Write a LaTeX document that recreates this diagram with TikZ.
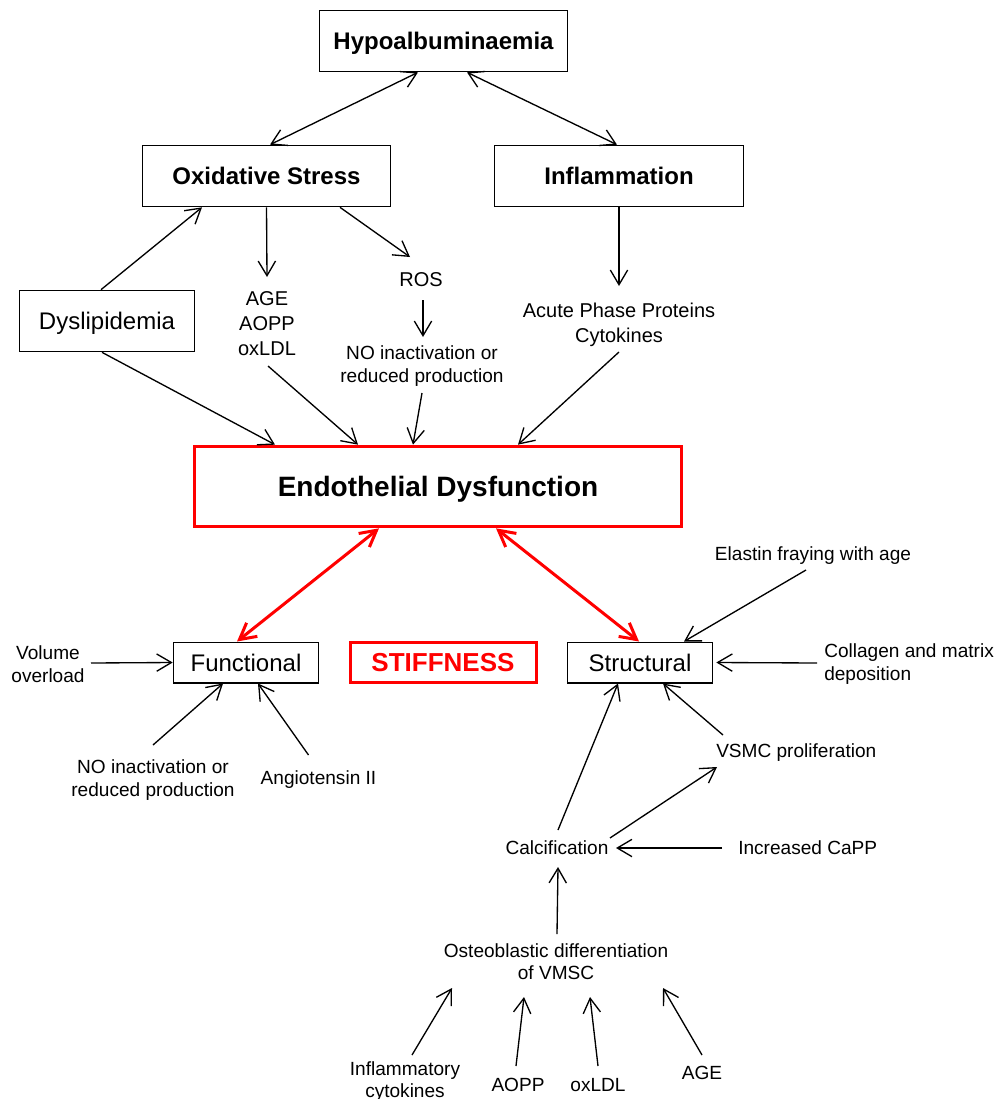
\documentclass[tikz,border=0pt]{standalone}
\usepackage{fontspec}
\setmainfont{Liberation Sans}
\usetikzlibrary{arrows.meta}
\tikzset{
  box/.style={draw=black, line width=1pt, inner sep=0pt, fill=white, text depth=0pt},
  redbox/.style={draw=red, line width=2.25pt, inner sep=0pt, text depth=0pt},
  lbl/.style={inner sep=0pt, align=center},
  tip/.style={Straight Barb[length=11pt,width=13pt]},
  arr/.style={draw=black, line width=1pt, -{Straight Barb[length=11pt,width=13pt]}},
  barr/.style={draw=black, line width=1pt, {Straight Barb[length=11pt,width=13pt]}-{Straight Barb[length=11pt,width=13pt]}},
  rarr/.style={draw=red, line width=2.25pt, {Straight Barb[length=12pt,width=13pt]}-{Straight Barb[length=12pt,width=13pt]}},
}
\newcommand{\fsBig}{\fontsize{18}{21}\selectfont}
\newcommand{\fsMid}{\fontsize{15}{18.5}\selectfont}
\newcommand{\fsNo}{\fontsize{14.3}{17.3}\selectfont}
\newcommand{\fsSmall}{\fontsize{14.3}{16.8}\selectfont}
\begin{document}
\begin{tikzpicture}[x=0.75pt,y=-0.75pt]
\useasboundingbox (0,0) rectangle (994,1099);
\clip (0,0) rectangle (994,1099);
\fill[white] (0,0) rectangle (994,1099);

% main boxes
\node[box, minimum width=186pt, minimum height=46pt, font=\fsBig\bfseries] (hypo) at (443.5,41) {Hypoalbuminaemia};
\node[box, minimum width=186pt, minimum height=46pt, font=\fsBig\bfseries] (ox) at (266.5,176) {Oxidative Stress};
\node[box, minimum width=187pt, minimum height=46pt, font=\fsBig\bfseries] (infl) at (619,176) {Inflammation};
\node[box, minimum width=131.5pt, minimum height=46pt, font=\fsBig] (dys) at (107,321) {Dyslipidemia};
\node[redbox, minimum width=365.5pt, minimum height=60.5pt, font=\fontsize{21}{24}\selectfont\bfseries] (endo) at (438,486.5) {Endothelial Dysfunction};
\node[box, minimum width=109pt, minimum height=30.5pt, font=\fsBig] (func) at (246,662.5) {Functional};
\node[redbox, minimum width=139.5pt, minimum height=30.5pt, text=red, font=\fontsize{19.5}{22}\selectfont\bfseries] (stiff) at (443,662.5) {STIFFNESS};
\node[box, minimum width=109pt, minimum height=30.5pt, font=\fsBig] (struct) at (640,662.5) {Structural};

% text labels
\node[lbl, font=\fsMid] (age) at (267,323.5) {AGE\\AOPP\\oxLDL};
\node[lbl, font=\fsMid] (ros) at (421,280) {ROS};
\node[lbl, font=\fsNo] (notop) at (422,366) {NO inactivation or\\reduced production};
\node[lbl, font=\fsMid] (acute) at (619,324.5) {Acute Phase Proteins\\Cytokines};
\node[lbl, font=\fsSmall] (vol) at (48,664) {Volume\\overload};
\node[lbl, font=\fsSmall] (nobot) at (153,780) {NO inactivation or\\reduced production};
\node[lbl, font=\fsSmall] (angio) at (318.5,780) {Angiotensin II};
\node[lbl, font=\fsSmall] (elastin) at (813,556) {Elastin fraying with age};
\node[lbl, font=\fsSmall, anchor=west, align=left] (coll) at (824,664) {Collagen and matrix\\deposition};
\node[lbl, font=\fsSmall, anchor=west] (vsmc) at (716,753) {VSMC proliferation};
\node[lbl, font=\fsSmall] (calc) at (557,848) {Calcification};
\node[lbl, font=\fsSmall, anchor=west] (capp) at (738,848) {Increased CaPP};
\node[lbl, font=\fsSmall] (osteo) at (556,961.5) {Osteoblastic differentiation\\of VMSC};
\node[lbl, font=\fsSmall] (inflcyt) at (405,1081.5) {Inflammatory\\cytokines};
\node[lbl, font=\fsSmall] (aopp) at (518,1085) {AOPP};
\node[lbl, font=\fsSmall] (oxldl) at (598,1085) {oxLDL};
\node[lbl, font=\fsSmall] (age2) at (702,1073) {AGE};

% top connectors
\draw[barr] ([shift={(-25.5,0)}]hypo.south) -- ([shift={(3.5,0)}]ox.north);
\draw[barr] ([shift={(23.5,0)}]hypo.south) -- ([shift={(-2,0)}]infl.north);
\draw[arr] ([shift={(-6,0)}]dys.north) -- ([shift={(-64.5,0)}]ox.south);
\draw[arr] (ox.south) -- ([shift={(0,-46.5)}]age.center);
\draw[arr] ([shift={(73.5,0)}]ox.south) -- ([shift={(-11,-23)}]ros.center);
\draw[arr] ([shift={(2,20)}]ros.center) -- ([shift={(1,-29)}]notop.center);
\draw[arr] (infl.south) -- ([shift={(0,-38.5)}]acute.center);
\draw[arr] ([shift={(-5,0)}]dys.south) -- ([shift={(-163,0)}]endo.north);
\draw[arr] ([shift={(1,42.5)}]age.center) -- ([shift={(-80,0)}]endo.north);
\draw[arr] ([shift={(0,27)}]notop.center) -- ([shift={(-25,0)}]endo.north);
\draw[arr] ([shift={(0,27.5)}]acute.center) -- ([shift={(80,0)}]endo.north);

% red connectors
\draw[rarr] ([shift={(-59,0)}]endo.south) -- ([shift={(-9,0)}]func.north);
\draw[rarr] ([shift={(58,0)}]endo.south) -- ([shift={(-1,0)}]struct.north);

% functional inputs
\draw[arr] ([shift={(43,-1)}]vol.center) -- (func.west);
\draw[arr] ([shift={(0,-35)}]nobot.center) -- ([shift={(-23,0)}]func.south);
\draw[arr] ([shift={(-10,-25)}]angio.center) -- ([shift={(12,0)}]func.south);

% structural inputs
\draw[arr] ([shift={(-7,14)}]elastin.center) -- ([shift={(44,0)}]struct.north);
\draw[arr] ([shift={(-7,-1)}]coll.west) -- ([shift={(3,0)}]struct.east);
\draw[arr] ([shift={(7,-18)}]vsmc.west) -- ([shift={(23,0)}]struct.south);
\draw[arr] ([shift={(1,-18)}]calc.center) -- ([shift={(-22,0)}]struct.south);
\draw[arr] ([shift={(53,-10)}]calc.center) -- ([shift={(1,14)}]vsmc.west);
\draw[arr] ([shift={(-16,0)}]capp.west) -- ([shift={(59,0)}]calc.center);
\draw[arr] ([shift={(1,-27.5)}]osteo.center) -- ([shift={(1,19)}]calc.center);

% osteoblastic inputs
\draw[arr] ([shift={(7,-26.5)}]inflcyt.center) -- ([shift={(-104,26.5)}]osteo.center);
\draw[arr] ([shift={(-2,-19)}]aopp.center) -- ([shift={(-32,35.5)}]osteo.center);
\draw[arr] ([shift={(0,-19)}]oxldl.center) -- ([shift={(34,35.5)}]osteo.center);
\draw[arr] ([shift={(0,-18)}]age2.center) -- ([shift={(107,26.5)}]osteo.center);
\end{tikzpicture}
\end{document}
